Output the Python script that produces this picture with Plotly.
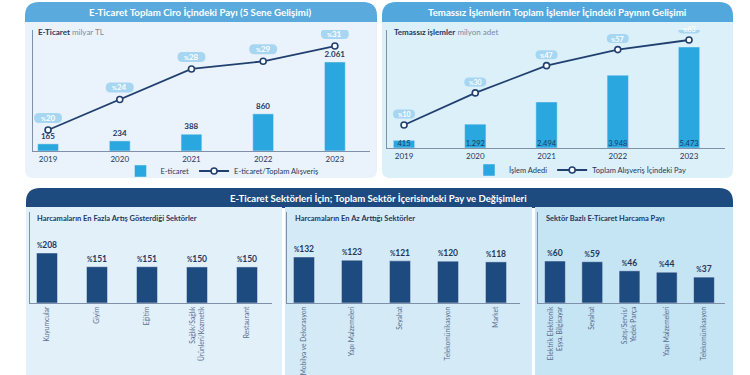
import plotly.graph_objects as go

# ---------------- DATA ----------------
years = ["2019", "2020", "2021", "2022", "2023"]
eticaret_ciro = [165, 234, 388, 860, 2061]          # milyar TL
eticaret_pay = [20, 24, 28, 29, 31]                 # % of total
temassiz_adet = [415, 1292, 2494, 3948, 5473]       # milyon adet
temassiz_pay = [10, 30, 47, 57, 63]                 # %

top_sectors = ["Kuyumcular", "Giyim", "Eğitim", "Sağlık/Sağlık<br>Ürünleri/Kozmetik", "Restaurant"]
top_growth = [208, 151, 151, 150, 150]
low_sectors = ["Mobilya ve Dekorasyon", "Yapı Malzemeleri", "Seyahat", "Telekomünikasyon", "Market"]
low_growth = [132, 123, 121, 120, 118]
share_sectors = ["Elektrik Elektronik<br>Eşya, Bilgisayar", "Seyahat", "Satış/Servis/<br>Yedek Parça",
                 "Yapı Malzemeleri", "Telekomünikasyon"]
share_values = [60, 59, 46, 44, 37]

# ---------------- STYLE ----------------
W, H = 750, 375
FONT = "Lato"
NAVY = "#1d4a7f"
DARK = "#1f3760"
CYAN = "#2aa7df"
LINE = "#21406f"
PILL = "#a6d6f1"
AXC = "#7f90ab"


def px(x):
    return x / W


def py(y):
    return 1 - y / H


def rrect(x0, y0, x1, y1, rtl=0, rtr=0, rbr=0, rbl=0):
    p = []
    p.append(f"M {px(x0 + rtl)},{py(y0)}")
    p.append(f"L {px(x1 - rtr)},{py(y0)}")
    if rtr:
        p.append(f"Q {px(x1)},{py(y0)} {px(x1)},{py(y0 + rtr)}")
    p.append(f"L {px(x1)},{py(y1 - rbr)}")
    if rbr:
        p.append(f"Q {px(x1)},{py(y1)} {px(x1 - rbr)},{py(y1)}")
    p.append(f"L {px(x0 + rbl)},{py(y1)}")
    if rbl:
        p.append(f"Q {px(x0)},{py(y1)} {px(x0)},{py(y1 - rbl)}")
    p.append(f"L {px(x0)},{py(y0 + rtl)}")
    if rtl:
        p.append(f"Q {px(x0)},{py(y0)} {px(x0 + rtl)},{py(y0)}")
    p.append("Z")
    return " ".join(p)


def fmt_tr(v):
    return f"{v:,}".replace(",", ".")


def pct(v, s=6.5):
    return f"<span style='font-size:{s}px'>%</span>{v}"


shapes = []
annotations = []


def panel(x0, y0, x1, y1, color, rtl=0, rtr=0, rbr=0, rbl=0):
    shapes.append(dict(type="path", xref="paper", yref="paper", layer="below",
                       path=rrect(x0, y0, x1, y1, rtl, rtr, rbr, rbl),
                       fillcolor=color, line=dict(width=0)))


def text(x, y, t, size=9, color="white", xanchor="center", bold=False):
    annotations.append(dict(xref="paper", yref="paper", x=px(x), y=py(y), text=(f"<b>{t}</b>" if bold else t),
                            showarrow=False, xanchor=xanchor, yanchor="middle",
                            font=dict(family=FONT, size=size, color=color)))


# panels
panel(25, 2, 377, 23, "#5aaadd", rtl=14, rtr=14)
panel(25, 22, 377, 178, "#eaf3fb", rbl=8, rbr=8)
panel(382, 2, 733, 23, "#52a8dc", rtl=14, rtr=14)
panel(382, 22, 733, 178, "#dcf0fa", rbl=8, rbr=8)
panel(26, 188, 733, 208, NAVY, rtl=14, rtr=14)
panel(26, 207, 282, 380, "#e2f0fa")
panel(285, 207, 532, 380, "#d4ebf7")
panel(535, 207, 733, 380, "#c5e4f4")

text(200, 12.5, "E-Ticaret Toplam Ciro İçindeki Payı (5 Sene Gelişimi)", size=9.7, bold=True)
text(557, 12.5, "Temassız İşlemlerin Toplam İşlemler İçindeki Payının Gelişimi", size=9.7, bold=True)
text(378, 198, "E-Ticaret Sektörleri İçin; Toplam Sektör İçerisindeki Pay ve Değişimleri", size=9.6, bold=True)

text(36, 32, f"<b style='color:{DARK}'>E-Ticaret</b> <span style='color:#7a8aa3'>milyar TL</span>", size=8, color=DARK, xanchor="left")
text(392, 32, f"<b style='color:{DARK}'>Temassız işlemler</b> <span style='color:#7a8aa3'>milyon adet</span>", size=8, color=DARK, xanchor="left")
text(35, 218, "Harcamaların En Fazla Artış Gösterdiği Sektörler", size=7.5, color=DARK, xanchor="left", bold=True)
text(293, 218, "Harcamaların En Az Arttığı Sektörler", size=7.5, color=DARK, xanchor="left", bold=True)
text(544, 218, "Sektör Bazlı E-Ticaret Harcama Payı", size=7.5, color=DARK, xanchor="left", bold=True)

fig = go.Figure()
idx = list(range(len(years)))

# ---- Chart 1 ----
fig.add_trace(go.Bar(x=idx, y=eticaret_ciro, width=0.29, marker_color=CYAN, name="E-ticaret",
                     text=[fmt_tr(v) for v in eticaret_ciro], textposition="outside", cliponaxis=False,
                     textfont=dict(family=FONT, size=8, color=DARK), texttemplate="<b>%{text}</b>",
                     xaxis="x", yaxis="y", legend="legend", hoverinfo="skip"))
fig.add_trace(go.Scatter(x=idx, y=eticaret_pay, mode="lines+markers", name="E-ticaret/Toplam Alışveriş",
                         line=dict(color=LINE, width=1.8),
                         marker=dict(size=6, color="white", line=dict(color=LINE, width=1.6)),
                         xaxis="x", yaxis="y2", legend="legend", cliponaxis=False))

# ---- Chart 2 ----
fig.add_trace(go.Bar(x=idx, y=temassiz_adet, width=0.3, marker_color=CYAN, name="İşlem Adedi",
                     xaxis="x2", yaxis="y3", legend="legend2", hoverinfo="skip"))
fig.add_trace(go.Scatter(x=idx, y=[0] * len(idx), mode="text", text=[fmt_tr(v) for v in temassiz_adet],
                         textposition="top center", textfont=dict(family=FONT, size=7.5, color=DARK),
                         xaxis="x2", yaxis="y3", showlegend=False, cliponaxis=False, hoverinfo="skip"))
fig.add_trace(go.Scatter(x=idx, y=temassiz_pay, mode="lines+markers", name="Toplam Alışveriş İçindeki Pay",
                         line=dict(color=LINE, width=1.8),
                         marker=dict(size=6, color="white", line=dict(color=LINE, width=1.6)),
                         xaxis="x2", yaxis="y4", legend="legend2", cliponaxis=False))


def pill(xref, yref, xv, yv, w, h, dy, label, size):
    r = h / 2
    hw = w / 2
    path = (f"M {-hw + r},{dy - r} L {hw - r},{dy - r} Q {hw},{dy - r} {hw},{dy} "
            f"Q {hw},{dy + r} {hw - r},{dy + r} L {-hw + r},{dy + r} "
            f"Q {-hw},{dy + r} {-hw},{dy} Q {-hw},{dy - r} {-hw + r},{dy - r} Z")
    shapes.append(dict(type="path", xref=xref, yref=yref, xsizemode="pixel", ysizemode="pixel",
                       xanchor=xv, yanchor=yv, path=path, fillcolor=PILL, line=dict(width=0), layer="above"))
    annotations.append(dict(xref=xref, yref=yref, x=xv, y=yv, yshift=dy, text=f"<b>{label}</b>",
                            showarrow=False, font=dict(family=FONT, size=size, color="white"),
                            xanchor="center", yanchor="middle"))


for i, v in zip(idx, eticaret_pay):
    pill("x", "y2", i, v, 28, 10, 12, pct(v, 6), 8)
for i, v in zip(idx, temassiz_pay):
    pill("x2", "y4", i, v, 22, 9, 11, pct(v, 5.5), 7)

# ---- Bottom charts ----
for (cats, vals, xa, ya) in [(top_sectors, top_growth, "x3", "y5"),
                             (low_sectors, low_growth, "x4", "y6"),
                             (share_sectors, share_values, "x5", "y7")]:
    fig.add_trace(go.Bar(x=list(range(len(cats))), y=vals, marker_color=NAVY,
                         text=[pct(v) for v in vals], textposition="outside", cliponaxis=False,
                         texttemplate="<b>%{text}</b>",
                         textfont=dict(family=FONT, size=8.5, color=DARK),
                         xaxis=xa, yaxis=ya, showlegend=False, hoverinfo="skip",
                         width=0.42 if xa == "x3" else (0.44 if xa == "x4" else 0.56)))

tickfont_years = dict(family=FONT, size=8, color=DARK)
tickfont_cat = dict(family=FONT, size=6.7, color="#5a6b8c")


def xax(d0, d1, rng, vals, labels, font, anchor, angle=0):
    return dict(domain=[px(d0), px(d1)], range=rng, tickvals=vals, ticktext=labels, tickangle=angle,
                showline=True, linecolor=AXC, linewidth=1, showgrid=False, zeroline=False, ticks="",
                tickfont=font, anchor=anchor, fixedrange=True, automargin=False)


def yax(top, bottom, rng, anchor):
    return dict(domain=[py(bottom), py(top)], range=rng, showline=True, linecolor=AXC, linewidth=1.2,
                showgrid=False, zeroline=False, showticklabels=False, ticks="", fixedrange=True,
                anchor=anchor, automargin=False)


layout = dict(
    width=W, height=H, margin=dict(l=0, r=0, t=0, b=0, autoexpand=False),
    paper_bgcolor="white", plot_bgcolor="rgba(0,0,0,0)",
    font=dict(family=FONT, color=DARK),
    barmode="overlay", showlegend=True,
    shapes=shapes, annotations=annotations,
)

layout["xaxis"] = xax(33, 370, [-0.21, 4.49], idx, years, tickfont_years, "y")
layout["yaxis"] = yax(30, 151, [0, 2802], "x")
layout["yaxis2"] = dict(overlaying="y", range=[17.25, 33.1], visible=False, fixedrange=True, automargin=False)

layout["xaxis2"] = xax(387, 725, [-0.239, 4.505], idx, years, tickfont_years, "y3")
layout["yaxis3"] = yax(30, 148, [0, 6394], "x2")
layout["yaxis4"] = dict(overlaying="y3", range=[-4.34, 69.23], visible=False, fixedrange=True, automargin=False)

n = len(top_sectors)
layout["xaxis3"] = xax(30, 272, [-0.34, 4.5], list(range(n)), top_sectors, tickfont_cat, "y5", angle=-90)
layout["yaxis5"] = yax(212, 303, [0, 378.6], "x3")
layout["xaxis4"] = xax(287, 520, [-0.354, 4.5], list(range(n)), low_sectors, tickfont_cat, "y6", angle=-90)
layout["yaxis6"] = yax(212, 303, [0, 261.1], "x4")
layout["xaxis5"] = xax(538, 725, [-0.456, 4.564], list(range(n)), share_sectors, tickfont_cat, "y7", angle=-90)
layout["yaxis7"] = yax(212, 303, [0, 130], "x5")

layout["legend"] = dict(orientation="h", x=px(222), xanchor="center", y=py(171), yanchor="middle",
                        bgcolor="rgba(0,0,0,0)", font=dict(family=FONT, size=7.5, color=DARK),
                        itemwidth=30, tracegroupgap=0)
layout["legend2"] = dict(orientation="h", x=px(580), xanchor="center", y=py(170), yanchor="middle",
                         bgcolor="rgba(0,0,0,0)", font=dict(family=FONT, size=7.5, color=DARK),
                         itemwidth=30, tracegroupgap=0)

fig.update_layout(**layout)
fig.write_html("out.html", config={"displayModeBar": False},
               post_script="document.body.style.margin='0';document.body.style.overflow='hidden';")
